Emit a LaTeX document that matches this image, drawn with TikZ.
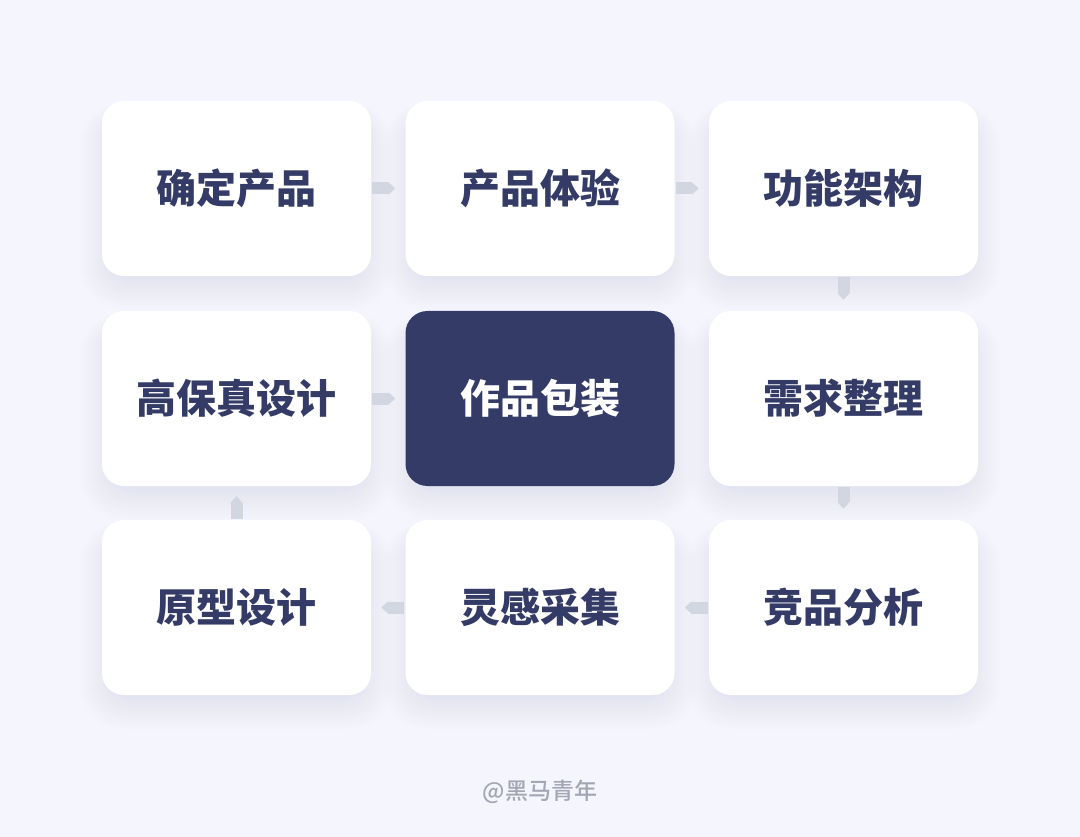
\documentclass[tikz,border=0pt]{standalone}
\usepackage{fontspec}
\newfontfamily\cjk{Noto Sans CJK SC}[BoldFont={Noto Sans CJK SC Black}]
\newfontfamily\cjkmed{Noto Sans CJK SC Medium}
\usetikzlibrary{arrows.meta}
\definecolor{bg}{HTML}{F4F5FD}
\definecolor{navy}{HTML}{343B66}
\definecolor{arrowgray}{HTML}{D2D6E0}
\definecolor{shadowc}{HTML}{D0D1F2}
\definecolor{footc}{HTML}{A3A6B3}
\tikzset{
  card/.style={minimum width=269pt, minimum height=175pt, rounded corners=22pt, inner sep=0pt, fill=white, text=navy, font=\cjk\bfseries\fontsize{40}{43}\selectfont},
  darkcard/.style={card, fill=navy, text=white},
  flow/.style={draw=arrowgray, line width=12pt, line cap=butt, -{Triangle[length=7pt,width=12pt,fill=arrowgray]}},
}
\newcommand{\cardshadow}[2]{%
  \foreach \i in {0,...,16}{%
    \fill[shadowc, opacity=0.028, rounded corners={20pt+\i*1.5pt}]
      ({#1-124.5-\i*2},{#2-70-\i*1.0}) rectangle ({#1+124.5+\i*2},{#2+87.5+2+\i*2});
  }}
\begin{document}
\begin{tikzpicture}[x=1pt,y=-1pt]
\fill[bg] (0,0) rectangle (1080,837);
\useasboundingbox (0,0) rectangle (1080,837);
\foreach \cx in {236.5,540,843.5}{\foreach \cy in {188.5,398.5,607.5}{\cardshadow{\cx}{\cy}}}
\node[card] (a) at (236.5,188.5) {确定产品};
\node[card] (b) at (540,188.5) {产品体验};
\node[card] (c) at (843.5,188.5) {功能架构};
\node[card] (d) at (236.5,398.5) {高保真设计};
\node[darkcard] (e) at (540,398.5) {作品包装};
\node[card] (f) at (843.5,398.5) {需求整理};
\node[card] (g) at (236.5,607.5) {原型设计};
\node[card] (h) at (540,607.5) {灵感采集};
\node[card] (i) at (843.5,607.5) {竞品分析};
\draw[flow] ([xshift=1pt]a.east) -- ([xshift=-10pt]b.west);
\draw[flow] ([xshift=1pt]b.east) -- ([xshift=-10pt]c.west);
\draw[flow] ([yshift=-1pt]c.south) -- ([yshift=11pt]f.north);
\draw[flow] ([yshift=-1pt]f.south) -- ([yshift=11pt]i.north);
\draw[flow] ([xshift=-1pt]i.west) -- ([xshift=10pt]h.east);
\draw[flow] ([xshift=-1pt]h.west) -- ([xshift=10pt]g.east);
\draw[flow] ([yshift=1pt]g.north) -- ([yshift=-10pt]d.south);
\draw[flow] ([xshift=1pt]d.east) -- ([xshift=-10pt]e.west);
\node[text=footc, font=\cjkmed\fontsize{23}{25}\selectfont] (foot) at (540,792) {@黑马青年};
\end{tikzpicture}
\end{document}
